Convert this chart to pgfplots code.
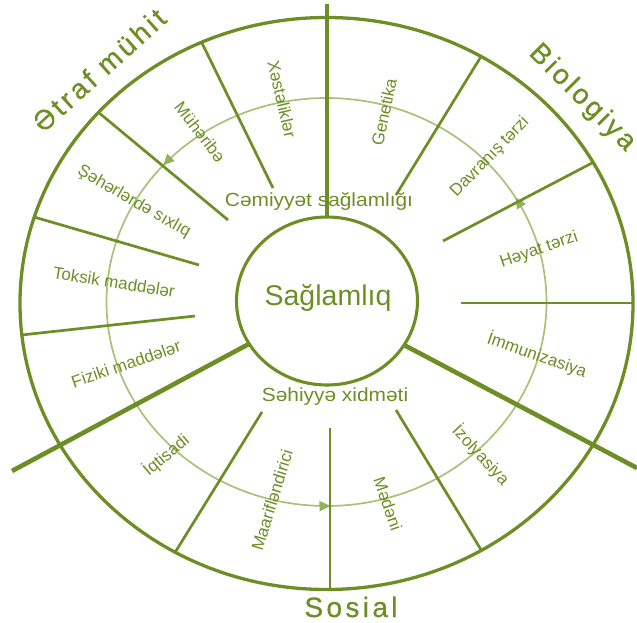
\documentclass[border=0pt]{standalone}
\usepackage{pgfplots}
\pgfplotsset{compat=1.18}
\usepackage{fontspec}
\setmainfont{Liberation Sans}
\usetikzlibrary{decorations.markings,arrows.meta}
\definecolor{olv}{RGB}{108,142,36}
\definecolor{lgt}{RGB}{168,194,120}
\definecolor{arr}{RGB}{145,178,90}
\begin{document}
\begin{tikzpicture}
\begin{axis}[x=1pt,y=1pt,xmin=0,xmax=637,ymin=0,ymax=623,y dir=reverse,hide axis,clip=false]
% middle light ring with arrows
\draw[lgt, line width=1.7pt, postaction={decorate},
  decoration={markings,
    mark=at position 0.083 with {\arrow[arr]{Triangle[length=11pt,width=10pt]}},
    mark=at position 0.386 with {\arrow[arr]{Triangle[length=11pt,width=10pt]}},
    mark=at position 0.753 with {\arrow[arr]{Triangle[length=11pt,width=10pt]}}}]
  (axis cs:326.5,302) ellipse [x radius=220pt, y radius=204pt];
% outer and inner circles
\draw[olv, line width=3.3pt] (axis cs:326.5,303.5) ellipse [x radius=306.5pt, y radius=286pt];
\draw[olv, line width=3.1pt] (axis cs:327,301) ellipse [x radius=90.5pt, y radius=84pt];
% main dividers
\addplot[olv, line width=3.6pt] coordinates {(327,4) (327,217)};
\addplot[olv, line width=4.6pt] coordinates {(249,343.9) (12,471)};
\addplot[olv, line width=4.6pt] coordinates {(404.2,345.1) (637,468)};
% sub dividers
\addplot[olv, line width=2.7pt] coordinates {(273,188) (201.5,42)};
\addplot[olv, line width=2.7pt] coordinates {(228,220) (98,112)};
\addplot[olv, line width=2.7pt] coordinates {(199,265) (34,217)};
\addplot[olv, line width=2.7pt] coordinates {(195,316) (21.5,335)};
\addplot[olv, line width=2.7pt] coordinates {(396,195) (481,56.5)};
\addplot[olv, line width=2.7pt] coordinates {(443,241) (593,162.5)};
\addplot[olv, line width=2.7pt] coordinates {(461,303) (633,303)};
\addplot[olv, line width=2.7pt] coordinates {(262,412) (175,552.5)};
\addplot[olv, line width=1.8pt] coordinates {(330,428) (330,589.5)};
\addplot[olv, line width=2.7pt] coordinates {(396,410) (481.5,550.5)};
% centre labels
\node[olv, font=\fontsize{28.5}{32}\selectfont] at (axis cs:328,298) {Sağlamlıq};
\node[olv, font=\fontsize{19}{22}\selectfont, xscale=1.1] at (axis cs:319,201) {Cəmiyyət sağlamlığı};
\node[olv, font=\fontsize{19}{22}\selectfont, xscale=1.1] at (axis cs:335,397) {Səhiyyə xidməti};
% sector labels
\node[olv, font=\fontsize{28}{32}\selectfont\addfontfeatures{LetterSpace=12,FakeBold=0.6}, rotate=42] at (axis cs:99,70) {Ətraf mühit};
\node[olv, font=\fontsize{28}{32}\selectfont\addfontfeatures{LetterSpace=11,FakeBold=0.6}, rotate=-45] at (axis cs:582,98) {Biologiya};
\node[olv, font=\fontsize{28}{32}\selectfont\addfontfeatures{LetterSpace=12,FakeBold=0.6}] at (axis cs:351,607) {Sosial};
% small labels
\begin{scope}[every node/.style={olv, font=\fontsize{17}{19}\selectfont}]
\node[rotate=-77] at (axis cs:282,99) {Xəstəliklər};
\node[rotate=-52] at (axis cs:200,132) {Mühəribə};
\node[rotate=-30] at (axis cs:134,202) {Şəhərlərdə sıxlıq};
\node[rotate=-9] at (axis cs:114,282) {Toksik maddələr};
\node[rotate=19] at (axis cs:126,364) {Fiziki maddələr};
\node[rotate=40] at (axis cs:166,455) {İqtisadi};
\node[rotate=73] at (axis cs:272,500) {Maarifləndirici};
\node[rotate=-71] at (axis cs:388,504) {Mədəni};
\node[rotate=-47] at (axis cs:481,455) {İzolyasiya};
\node[rotate=-19] at (axis cs:537,355) {İmmunizasiya};
\node[rotate=19] at (axis cs:539,250) {Həyat tərzi};
\node[rotate=46] at (axis cs:490,157) {Davranış tərzi};
\node[rotate=78] at (axis cs:384,112) {Genetika};
\end{scope}
\end{axis}
\pgfresetboundingbox
\path (current axis.south west) rectangle (current axis.north east);
\end{tikzpicture}
\end{document}
